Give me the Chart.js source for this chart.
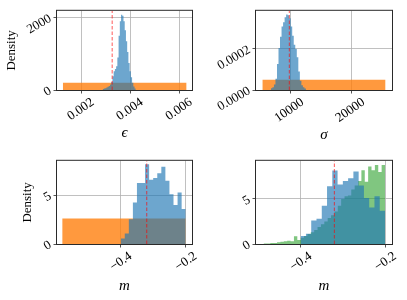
<!DOCTYPE html>
<html>
<head>
<meta charset="utf-8">
<script src="https://cdn.jsdelivr.net/npm/chart.js@4.4.1/dist/chart.umd.min.js"></script>
<style>
  html, body { margin: 0; padding: 0; background: #fff; }
  #wrap { position: relative; width: 407px; height: 300px; overflow: hidden; }
  #wrap canvas { position: absolute; display: block; }
</style>
</head>
<body>
<div id="wrap">
  <canvas id="eps" width="200" height="150" style="left:0;top:0"></canvas>
  <canvas id="sig" width="207" height="150" style="left:200px;top:0"></canvas>
  <canvas id="m1" width="200" height="150" style="left:0;top:150px"></canvas>
  <canvas id="m2" width="207" height="150" style="left:200px;top:150px"></canvas>
</div>
<script>
// top left: epsilon
const epsBinStart = 0.00285;
const epsBinWidth = 0.00005;
const epsPosterior = [25, 40, 50, 70, 90, 110, 150, 220, 380, 520, 580, 660, 900, 1500, 1900, 2080,
                      2050, 1900, 1650, 1350, 1050, 750, 520, 350, 200, 100, 40];
const epsPriorRange = [0.00123, 0.00627];
const epsPriorDensity = 198;
const epsTrue = 0.00324;
const epsXTicks = [0.002, 0.004, 0.006];
const epsXLabels = ['0.002', '0.004', '0.006'];
const epsYTicks = [0, 2000];
const epsYLabels = ['0', '2000'];

// top right: sigma
const sigBinStart = 6750;
const sigBinWidth = 250;
const sigPosterior = [9e-6, 1.4e-5, 2.7e-5, 5.5e-5, 1.27e-4, 2.05e-4, 2.6e-4, 3.1e-4, 3.3e-4, 3.55e-4,
                      3.68e-4, 3.64e-4, 3.5e-4, 3.1e-4, 2.64e-4, 2.2e-4, 2.0e-4, 1.6e-4, 9e-5, 4.5e-5,
                      2.3e-5, 1.4e-5, 7e-6];
const sigPriorRange = [5350, 25550];
const sigPriorDensity = 4.95e-5;
const sigTrue = 9780;
const sigXTicks = [10000, 20000];
const sigXLabels = ['10000', '20000'];
const sigYTicks = [0, 0.0002];
const sigYLabels = ['0.0000', '0.0002'];

// bottom: m
const mBinStart = -0.4;
const mBinWidth = 0.0125;
const mPosteriorLeft = [0.57, 1.07, 2.55, 4.26, 6.27, 6.27, 8.2, 6.6, 6.77, 7.27, 7.95, 6.5, 5.1, 4.0, 5.3, 3.6];
const mPosteriorRight = [0.9, 1.15, 2.6, 2.8, 4.24, 6.4, 8.15, 6.6, 7.0, 7.3, 8.04, 6.5, 5.1, 4.06, 5.3, 3.7];
const mPriorRange = [-0.58, -0.2];
const mPriorDensity = 2.63;
const mOtherBinStart = -0.488;
const mOtherBinWidth = 0.008;
const mOther = [0.05, 0.05, 0.1, 0.1, 0.2, 0.25, 0.3, 0.35, 0.3, 0.85, 0.45, 0.7, 0.9, 1.1, 1.3, 1.55,
                1.9, 2.2, 2.5, 2.9, 3.2, 3.6, 4.24, 5.0, 5.3, 5.4, 6.05, 6.5, 7.0, 8.2, 6.9, 8.6,
                8.2, 8.77, 8.0, 8.77];
const mTrue = -0.32;
const mXTicks = [-0.4, -0.2];
const mXLabels = ['\u22120.4', '\u22120.2'];
const mYTicks = [0, 5];
const mYLabels = ['0', '5'];

const serif = '"Liberation Serif", "DejaVu Serif", serif';
const BLUE = 'rgba(31,119,180,0.65)';
const ORANGE = 'rgba(255,127,14,0.8)';
const GREEN = 'rgba(44,160,44,0.6)';
const RED = 'rgba(255,0,0,0.55)';

// bin heights -> step points (last edge repeats the last height)
function histPoints(start, width, heights) {
    const pts = heights.map((h, i) => ({ x: start + i * width, y: h }));
    pts.push({ x: start + heights.length * width, y: heights[heights.length - 1] });
    return pts;
}

function histSet(data, color) {
    return {
        data: data,
        stepped: true,
        fill: 'origin',
        backgroundColor: color,
        borderColor: 'transparent',
        borderWidth: 0,
        pointRadius: 0
    };
}

function lineSet(x, ymax) {
    return {
        data: [{ x: x, y: 0 }, { x: x, y: ymax }],
        borderColor: RED,
        borderWidth: 1.2,
        borderDash: [3.5, 2],
        pointRadius: 0,
        fill: false
    };
}

const framePlugin = {
    id: 'frame',
    afterDatasetsDraw(chart) {
        const { ctx, chartArea: a } = chart;
        ctx.save();
        ctx.strokeStyle = '#2a2a2a';
        ctx.lineWidth = 1;
        ctx.strokeRect(a.left - 0.5, a.top - 0.5, a.right - a.left + 1, a.bottom - a.top + 1);
        ctx.restore();
    }
};

function makePanel(id, p) {
    const grid = {
        color: 'rgba(176,176,176,0.8)',
        lineWidth: 1,
        tickLength: 3.5,
        tickColor: '#2a2a2a',
        tickWidth: 0.8
    };
    return new Chart(document.getElementById(id), {
        type: 'line',
        data: { datasets: p.datasets },
        options: {
            responsive: false,
            animation: false,
            events: [],
            layout: { padding: { top: p.top, right: p.right, left: 0, bottom: 0 } },
            plugins: { legend: { display: false }, tooltip: { enabled: false } },
            scales: {
                x: {
                    type: 'linear',
                    min: p.xMin,
                    max: p.xMax,
                    afterBuildTicks: s => { s.ticks = p.xTicks.map(v => ({ value: v })); },
                    afterFit: s => { s.height = p.xAxisHeight; },
                    ticks: {
                        callback: (v, i) => p.xLabels[i],
                        autoSkip: false,
                        minRotation: 35,
                        maxRotation: 35,
                        labelOffset: p.labelOffset,
                        padding: 1,
                        color: '#000',
                        font: { family: serif, size: 13 }
                    },
                    grid: grid,
                    border: { display: false },
                    title: {
                        display: true,
                        text: p.xTitle,
                        color: '#000',
                        font: { family: serif, size: 15, style: 'italic' },
                        padding: { top: 0, bottom: p.xTitlePad }
                    }
                },
                y: {
                    type: 'linear',
                    min: 0,
                    max: p.yMax,
                    afterBuildTicks: s => { s.ticks = p.yTicks.map(v => ({ value: v })); },
                    afterFit: s => { s.width = p.yAxisWidth; },
                    ticks: {
                        callback: (v, i) => p.yLabels[i],
                        minRotation: 30,
                        maxRotation: 30,
                        padding: 3,
                        color: '#000',
                        font: { family: serif, size: 13 }
                    },
                    grid: grid,
                    border: { display: false },
                    title: {
                        display: !!p.yTitle,
                        text: p.yTitle || '',
                        color: '#000',
                        font: { family: serif, size: 13 },
                        padding: { top: p.yTitlePad || 0, bottom: 0 }
                    }
                }
            }
        },
        plugins: [framePlugin]
    });
}

const epsYMax = 2190;
makePanel('eps', {
    datasets: [
        lineSet(epsTrue, epsYMax),
        histSet(histPoints(epsBinStart, epsBinWidth, epsPosterior), BLUE),
        histSet([{ x: epsPriorRange[0], y: epsPriorDensity }, { x: epsPriorRange[1], y: epsPriorDensity }], ORANGE)
    ],
    xMin: 0.000992, xMax: 0.00649, yMax: epsYMax,
    xTicks: epsXTicks, xLabels: epsXLabels, yTicks: epsYTicks, yLabels: epsYLabels,
    xTitle: '\u03F5', yTitle: 'Density',
    top: 5, right: 8, xAxisHeight: 60, yAxisWidth: 57,
    labelOffset: 11, xTitlePad: 8, yTitlePad: 4
});

const sigYMax = 0.000386;
makePanel('sig', {
    datasets: [
        lineSet(sigTrue, sigYMax),
        histSet(histPoints(sigBinStart, sigBinWidth, sigPosterior), BLUE),
        histSet([{ x: sigPriorRange[0], y: sigPriorDensity }, { x: sigPriorRange[1], y: sigPriorDensity }], ORANGE)
    ],
    xMin: 4311, xMax: 26607, yMax: sigYMax,
    xTicks: sigXTicks, xLabels: sigXLabels, yTicks: sigYTicks, yLabels: sigYLabels,
    xTitle: '\u03C3', yTitle: null,
    top: 5, right: 15, xAxisHeight: 60, yAxisWidth: 56,
    labelOffset: 12, xTitlePad: 6
});

const m1YMax = 8.55;
makePanel('m1', {
    datasets: [
        lineSet(mTrue, m1YMax),
        histSet(histPoints(mBinStart, mBinWidth, mPosteriorLeft), BLUE),
        histSet([{ x: mPriorRange[0], y: mPriorDensity }, { x: mPriorRange[1], y: mPriorDensity }], ORANGE)
    ],
    xMin: -0.596, xMax: -0.1806, yMax: m1YMax,
    xTicks: mXTicks, xLabels: mXLabels, yTicks: mYTicks, yLabels: mYLabels,
    xTitle: 'm', yTitle: 'Density',
    top: 9, right: 8, xAxisHeight: 56, yAxisWidth: 57,
    labelOffset: 10, xTitlePad: 5, yTitlePad: 20
});

const m2YMax = 9.24;
makePanel('m2', {
    datasets: [
        lineSet(mTrue, m2YMax),
        histSet(histPoints(mBinStart, mBinWidth, mPosteriorRight), BLUE),
        histSet(histPoints(mOtherBinStart, mOtherBinWidth, mOther), GREEN)
    ],
    xMin: -0.506, xMax: -0.1834, yMax: m2YMax,
    xTicks: mXTicks, xLabels: mXLabels, yTicks: mYTicks, yLabels: mYLabels,
    xTitle: 'm', yTitle: null,
    top: 9, right: 15, xAxisHeight: 56, yAxisWidth: 56,
    labelOffset: 10, xTitlePad: 5
});
</script>
</body>
</html>
